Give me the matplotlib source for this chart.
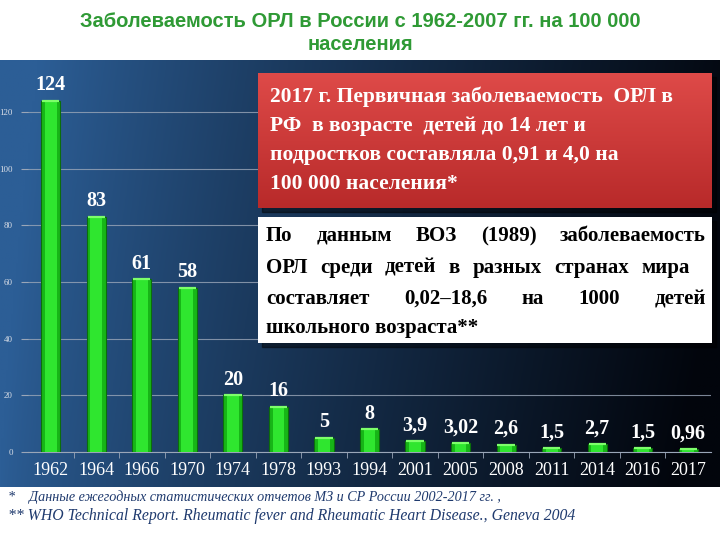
import numpy as np
import matplotlib
matplotlib.use("Agg")
import matplotlib.pyplot as plt
from matplotlib.patches import Rectangle

# data
years = ['1962', '1964', '1966', '1970', '1974', '1978', '1993', '1994',
         '2001', '2005', '2008', '2011', '2014', '2016', '2017']
rates = [124, 83, 61, 58, 20, 16, 5, 8, 3.9, 3.02, 2.6, 1.5, 2.7, 1.5, 0.96]
rate_labels = ['124', '83', '61', '58', '20', '16', '5', '8', '3,9', '3,02',
               '2,6', '1,5', '2,7', '1,5', '0,96']
yticks = [0, 20, 40, 60, 80, 100, 120]

title = 'Заболеваемость ОРЛ в России с 1962-2007 гг. на 100 000\nнаселения'
red_lines = ['2017 г. Первичная заболеваемость  ОРЛ в',
             'РФ  в возрасте  детей до 14 лет и',
             'подростков составляла 0,91 и 4,0 на',
             '100 000 населения*']
white_lines = ['По данным ВОЗ (1989) заболеваемость',
               'ОРЛ среди детей в разных странах мира',
               'составляет 0,02–18,6 на 1000 детей',
               'школьного возраста**']
notes = ['*    Данные ежегодных статистических отчетов МЗ и СР России 2002-2017 гг. ,',
         '** WHO Technical Report. Rheumatic fever and Rheumatic Heart Disease., Geneva 2004']

SERIF = 'Liberation Serif'
W, H = 720, 540


def fx(px):
    return px / W


def fy(py):
    return 1 - py / H


fig = plt.figure(figsize=(7.2, 5.4), dpi=100)
fig.patch.set_facecolor('white')

# dark blue background panel
bg = fig.add_axes([0, fy(487), 1, fy(60) - fy(487)], zorder=0)
gx = np.linspace(0, 1, 300)
gy = np.linspace(0, 1, 100)
GX, GY = np.meshgrid(gx, gy)
t = np.clip(GX ** 0.8 * 1.05 - 0.1 * GY, 0, 1)
left_c = np.array([0x2c, 0x5e, 0x96]) / 255
right_c = np.array([0x02, 0x05, 0x0c]) / 255
img = left_c[None, None, :] * (1 - t[..., None]) + right_c[None, None, :] * t[..., None]
bg.imshow(img, aspect='auto', extent=[0, 1, 0, 1], origin='lower')
bg.set_axis_off()

# chart axes
ax = fig.add_axes([fx(28), fy(452), fx(711) - fx(28), fy(83.7) - fy(452)], zorder=2)
ax.patch.set_alpha(0)
x = np.arange(len(years))
ax.bar(x, rates, width=0.42, color='#17b517', edgecolor='#0b6e0b', linewidth=0.8, zorder=3)
ax.bar(x, rates, width=0.26, color='#2fe62f', linewidth=0, zorder=4)
for xi, v in zip(x, rates):
    ax.plot([xi - 0.19, xi + 0.19], [v, v], color='#7dff6a', lw=1.6, zorder=5,
            solid_capstyle='butt')
for xi, v, lab in zip(x, rates, rate_labels):
    ax.annotate(lab, (xi, v), xytext=(0, 4), textcoords='offset points',
                ha='center', va='bottom', color='white', fontsize=14.5,
                fontweight='bold', family=SERIF, zorder=6)

ax.set_xlim(-0.5, len(years) - 0.5)
ax.set_ylim(0, 130)
ax.set_yticks(yticks)
ax.set_yticklabels([str(v) for v in yticks], family=SERIF, fontsize=6.5, color='#d8dde6')
ax.set_xticks(x)
ax.set_xticklabels(years, family=SERIF, fontsize=13, color='white')
ax.set_xticks(np.arange(len(years) - 1) + 0.5, minor=True)
ax.tick_params(axis='x', which='major', length=0, pad=7)
ax.tick_params(axis='x', which='minor', length=4, color='#9aa6b8', direction='out')
ax.tick_params(axis='y', length=5, color='#9aa6b8', pad=6)
ax.grid(axis='y', color='#9aa6b8', lw=0.8, alpha=0.8, zorder=1)
for s in ['top', 'right', 'left']:
    ax.spines[s].set_visible(False)
ax.spines['bottom'].set_color('#9aa6b8')
ax.spines['bottom'].set_linewidth(0.8)

# title
fig.text(0.5, fy(33), title, ha='center', va='center', fontsize=14.5, fontweight='bold',
         color='#2f9a35', family='Liberation Sans', linespacing=1.3)

# red box
fig.patches.append(Rectangle((fx(262), fy(212)), fx(454), fy(0) - fy(135),
                             transform=fig.transFigure, color='black', alpha=0.45, zorder=3))
rbox = fig.add_axes([fx(258), fy(208), fx(712) - fx(258), fy(73) - fy(208)], zorder=4)
ry = np.linspace(0, 1, 100)[:, None] * np.ones((1, 10))
top_c = np.array([0xde, 0x4a, 0x48]) / 255
bot_c = np.array([0xb8, 0x2a, 0x2a]) / 255
rimg = bot_c[None, None, :] * (1 - ry[..., None]) + top_c[None, None, :] * ry[..., None]
rbox.imshow(rimg, aspect='auto', extent=[0, 1, 0, 1], origin='lower')
rbox.set_axis_off()
for i, line in enumerate(red_lines):
    fig.text(fx(270), fy(102 + i * 29), line, ha='left', va='baseline', fontsize=15.5,
             fontweight='bold', color='white', family=SERIF, zorder=5)

# white box
fig.patches.append(Rectangle((fx(262), fy(347)), fx(454), fy(0) - fy(126),
                             transform=fig.transFigure, color='black', alpha=0.45, zorder=3))
fig.patches.append(Rectangle((fx(258), fy(343)), fx(454), fy(0) - fy(126),
                             transform=fig.transFigure, facecolor='white',
                             edgecolor='none', zorder=4))

renderer = fig.canvas.get_renderer()


def justify(words_line, x0, x1, ypx, **kw):
    words = words_line.split()
    arts = [fig.text(0, fy(ypx), w, ha='left', va='baseline', **kw) for w in words]
    widths = [a.get_window_extent(renderer).width for a in arts]
    gap = (x1 - x0 - sum(widths)) / max(len(words) - 1, 1)
    pos = x0
    for a, w in zip(arts, widths):
        a.set_x(fx(pos))
        pos += w + gap


tkw = dict(fontsize=15, fontweight='bold', color='black', family=SERIF, zorder=5)
justify(white_lines[0], 266, 706, 241, **tkw)
justify(white_lines[1], 266, 690, 273, **tkw)
justify(white_lines[2], 266, 706, 304, **tkw)
fig.text(fx(266), fy(333), white_lines[3], ha='left', va='baseline', **tkw)

# footnotes
fig.text(fx(8), fy(497), notes[0], ha='left', va='center', fontsize=10.2,
         style='italic', color='#1f3a6e', family=SERIF)
fig.text(fx(8), fy(516), notes[1], ha='left', va='center', fontsize=11.3,
         style='italic', color='#1f3a6e', family=SERIF)

fig.savefig('out.png', dpi=100, facecolor=fig.get_facecolor())
